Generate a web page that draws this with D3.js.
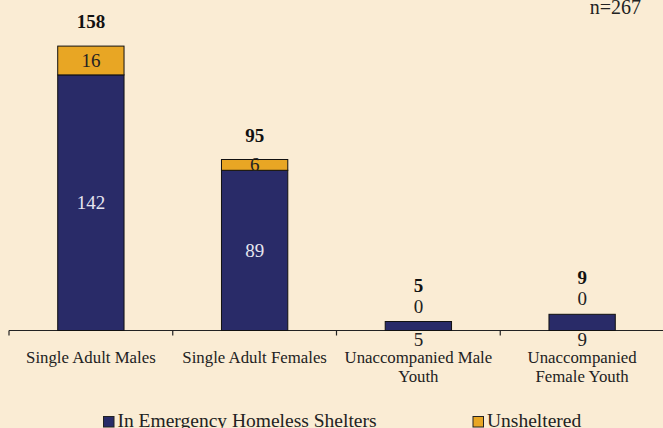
<!DOCTYPE html>
<html><head><meta charset="utf-8">
<script src="https://cdn.jsdelivr.net/npm/d3@7"></script>
<style>
html,body{margin:0;padding:0;background:#FAECD4;}
text{font-family:'Liberation Serif','DejaVu Serif',serif;}
</style></head>
<body><svg id="c" width="663" height="428"></svg>
<script>
const categories = [["Single Adult Males"],["Single Adult Females"],["Unaccompanied Male","Youth"],["Unaccompanied","Female Youth"]];
const sheltered = [142, 89, 5, 9];
const unsheltered = [16, 6, 0, 0];
const seriesNames = ["In Emergency Homeless Shelters", "Unsheltered"];
const colors = ["#292B68", "#E8A624"];
const note = "n=267";

const FONT = "'Liberation Serif', 'DejaVu Serif', serif";
const svg = d3.select("#c");
const W = 663, H = 428;
svg.append("rect").attr("width", W).attr("height", H).attr("fill", "#FAECD4");

const x = d3.scaleBand().domain(d3.range(categories.length)).range([9, 664]).paddingInner(0).paddingOuter(0);
const y = d3.scaleLinear().domain([0, 160]).range([330.5, 42.5]);
const bw = x.bandwidth() * 0.405;

const data = categories.map((c, i) => ({i, c, a: sheltered[i], b: unsheltered[i], t: sheltered[i] + unsheltered[i]}));

// axis
const axis = d3.axisBottom(x).tickSize(0).tickFormat("");
const gA = svg.append("g").attr("transform", `translate(0,${y(0)})`).call(axis);
gA.select(".domain").attr("stroke", "#222").attr("stroke-width", 1.2).attr("d", "M9,0H663");
const bounds = d3.range(categories.length + 1).map(k => k < categories.length ? x(k) : x(k - 1) + x.bandwidth());
svg.append("g").selectAll("line").data(bounds).join("line")
  .attr("x1", d => d).attr("x2", d => d).attr("y1", y(0)).attr("y2", y(0) + 5)
  .attr("stroke", "#222").attr("stroke-width", 1.2);

const cx = i => x(i) + x.bandwidth() / 2;

// bars
const g = svg.append("g");
g.selectAll("rect.a").data(data).join("rect").attr("class", "a")
  .attr("x", d => cx(d.i) - bw / 2).attr("width", bw)
  .attr("y", d => y(d.a)).attr("height", d => y(0) - y(d.a))
  .attr("fill", colors[0]).attr("stroke", "#111").attr("stroke-width", 1);
g.selectAll("rect.b").data(data.filter(d => d.b > 0)).join("rect").attr("class", "b")
  .attr("x", d => cx(d.i) - bw / 2).attr("width", bw)
  .attr("y", d => y(d.t)).attr("height", d => y(d.a) - y(d.t))
  .attr("fill", colors[1]).attr("stroke", "#111").attr("stroke-width", 1);

// segment labels
const lab = svg.append("g").attr("text-anchor", "middle").attr("font-size", 19).attr("font-family", FONT);
data.forEach(d => {
  const hA = y(0) - y(d.a);
  if (hA > 30) {
    lab.append("text").attr("x", cx(d.i)).attr("y", (y(0) + y(d.a)) / 2 + 6.5).attr("fill", "#E6E6F0").text(d.a);
  } else {
    lab.append("text").attr("x", cx(d.i)).attr("y", y(0) + 15.5).attr("fill", "#222").text(d.a);
  }
  const top = y(d.t);
  if (d.b > 0) {
    lab.append("text").attr("x", cx(d.i)).attr("y", (y(d.a) + y(d.t)) / 2 + 6.5).attr("fill", "#222").text(d.b);
    lab.append("text").attr("x", cx(d.i)).attr("y", top - 18).attr("font-weight", "bold").attr("fill", "#111").text(d.t);
  } else {
    lab.append("text").attr("x", cx(d.i)).attr("y", top - 9).attr("fill", "#222").text(d.b);
    lab.append("text").attr("x", cx(d.i)).attr("y", top - 30).attr("font-weight", "bold").attr("fill", "#111").text(d.t);
  }
});

// category labels
const cl = svg.append("g").attr("text-anchor", "middle").attr("font-size", 16.8).attr("fill", "#222").attr("font-family", FONT);
data.forEach(d => {
  d.c.forEach((line, k) => {
    cl.append("text").attr("x", cx(d.i)).attr("y", 363 + k * 18.5).text(line);
  });
});

// note
svg.append("text").attr("x", 641).attr("y", 14).attr("text-anchor", "end").attr("font-size", 20)
  .attr("font-family", FONT).attr("fill", "#222").text(note);

// legend
const lg = svg.append("g").attr("font-size", 19.5).attr("fill", "#222").attr("font-family", FONT);
const legX = [103.5, 473];
seriesNames.forEach((n, k) => {
  lg.append("rect").attr("x", legX[k]).attr("y", 416.5).attr("width", 10.5).attr("height", 10.5)
    .attr("fill", colors[k]).attr("stroke", "#222").attr("stroke-width", 1);
  lg.append("text").attr("x", legX[k] + 14).attr("y", 426.5).text(n);
});
</script></body></html>
